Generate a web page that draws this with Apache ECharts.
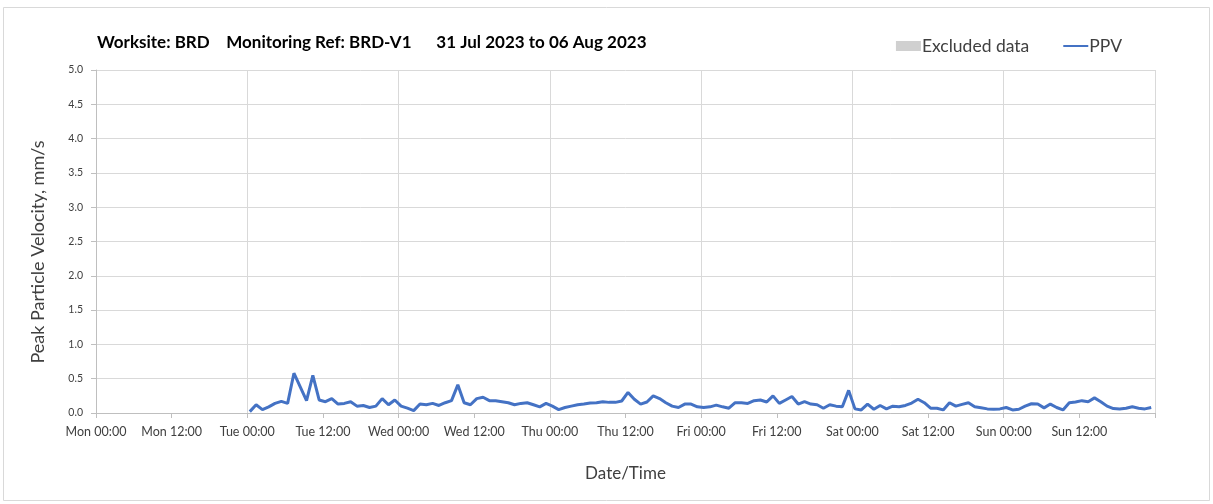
<!DOCTYPE html>
<html>
<head>
<meta charset="utf-8">
<script src="https://cdn.jsdelivr.net/npm/echarts@6/dist/echarts.min.js"></script>
<style>
html,body{margin:0;padding:0;background:#fff;}
#chart{width:1213px;height:504px;}
</style>
</head>
<body>
<div id="chart"></div>
<script>
// Hours since Mon 31 Jul 2023 00:00 of the first reading, readings hourly
const startHour = 24.4;
const ppvValues = [
  0.02,0.12,0.05,0.09,0.14,0.17,0.14,0.58,0.38,0.18,0.55,0.19,
  0.165,0.21,0.13,0.14,0.165,0.10,0.11,0.08,0.10,0.21,0.12,0.19,
  0.10,0.07,0.035,0.13,0.12,0.14,0.11,0.15,0.18,0.41,0.15,0.12,
  0.21,0.23,0.18,0.18,0.165,0.15,0.12,0.14,0.15,0.12,0.09,0.14,
  0.10,0.05,0.08,0.10,0.12,0.13,0.145,0.15,0.165,0.155,0.155,0.175,
  0.30,0.20,0.13,0.16,0.25,0.21,0.15,0.10,0.08,0.13,0.13,0.09,
  0.08,0.09,0.115,0.09,0.07,0.15,0.15,0.14,0.18,0.19,0.16,0.25,
  0.14,0.19,0.24,0.13,0.165,0.13,0.12,0.07,0.12,0.10,0.09,0.33,
  0.06,0.045,0.13,0.055,0.11,0.06,0.10,0.09,0.11,0.145,0.20,0.15,
  0.07,0.07,0.045,0.15,0.10,0.125,0.15,0.09,0.075,0.06,0.055,0.06,
  0.08,0.045,0.055,0.10,0.135,0.13,0.075,0.13,0.08,0.045,0.15,0.16,
  0.18,0.165,0.22,0.165,0.10,0.065,0.06,0.07,0.09,0.07,0.06,0.08
];
const dayNames = ['Mon','Tue','Wed','Thu','Fri','Sat','Sun'];
const yTicks = [0,0.5,1,1.5,2,2.5,3,3.5,4,4.5,5];
const titleText = 'Worksite: BRD    Monitoring Ref: BRD-V1      31 Jul 2023 to 06 Aug 2023';
const yTitle = 'Peak Particle Velocity, mm/s';
const xTitle = 'Date/Time';

const ppvData = ppvValues.map((v,i)=>[startHour+i, v]);
const FONT = 'Lato, "Open Sans", sans-serif';

const chart = echarts.init(document.getElementById('chart'), null, {renderer:'canvas'});
chart.setOption({
  animation:false,
  backgroundColor:'#fff',
  graphic:[{
    type:'rect', shape:{x:3.5,y:7.5,width:1206,height:493},
    style:{fill:'none',stroke:'#d9d9d9',lineWidth:1}, silent:true, z:-1
  },{
    type:'text', x:38, y:252, rotation:Math.PI/2, silent:true,
    style:{text:yTitle, fontFamily:FONT, fontSize:18, fill:'#404040',
      align:'center', verticalAlign:'middle'}
  }],
  title:{
    text:titleText, left:92, top:29,
    textStyle:{fontFamily:FONT,fontSize:17,fontWeight:'bold',color:'#000'}
  },
  legend:{
    right:86, top:32, itemWidth:25, itemHeight:10, itemGap:33,
    textStyle:{fontFamily:FONT,fontSize:17.5,color:'#404040',padding:[0,0,0,-4]},
    data:[{name:'Excluded data',icon:'rect'},{name:'PPV',itemStyle:{opacity:0}}]
  },
  grid:{left:96,right:58,top:70,bottom:91},
  xAxis:[{
    type:'value', min:0, max:168, interval:12,
    name:xTitle, nameLocation:'middle', nameGap:52,
    nameTextStyle:{fontFamily:FONT,fontSize:17,color:'#404040'},
    axisLine:{show:true,lineStyle:{color:'#bfbfbf'}},
    axisTick:{show:true,length:5,lineStyle:{color:'#bfbfbf'}},
    axisLabel:{
      fontFamily:FONT,fontSize:12.5,color:'#404040',margin:12,
      formatter:function(v){
        if(v>=168) return '';
        const d = dayNames[Math.floor(v/24)];
        const h = v%24===0 ? '00:00' : '12:00';
        return d+' '+h;
      }
    },
    splitLine:{show:false}
  },{
    type:'value', min:0, max:168, interval:24, position:'bottom',
    axisLine:{show:false}, axisTick:{show:false}, axisLabel:{show:false},
    splitLine:{show:true,lineStyle:{color:'#d9d9d9',width:1}}
  }],
  yAxis:{
    type:'value', min:yTicks[0], max:yTicks[yTicks.length-1], interval:0.5,
    axisLine:{show:true,lineStyle:{color:'#bfbfbf'}},
    axisTick:{show:true,length:5,lineStyle:{color:'#bfbfbf'}},
    axisLabel:{fontFamily:FONT,fontSize:10.5,color:'#404040',margin:13,
      formatter:function(v){return v.toFixed(1);}},
    splitLine:{show:true,lineStyle:{color:'#d9d9d9',width:1}}
  },
  series:[{
    name:'Excluded data', type:'bar', data:[], itemStyle:{color:'#d0d0d0'}
  },{
    name:'PPV', type:'line', data:ppvData, showSymbol:false, symbol:'none',
    lineStyle:{color:'#4472c4',width:3}, itemStyle:{color:'#4472c4'}
  }]
});
</script>
</body>
</html>
